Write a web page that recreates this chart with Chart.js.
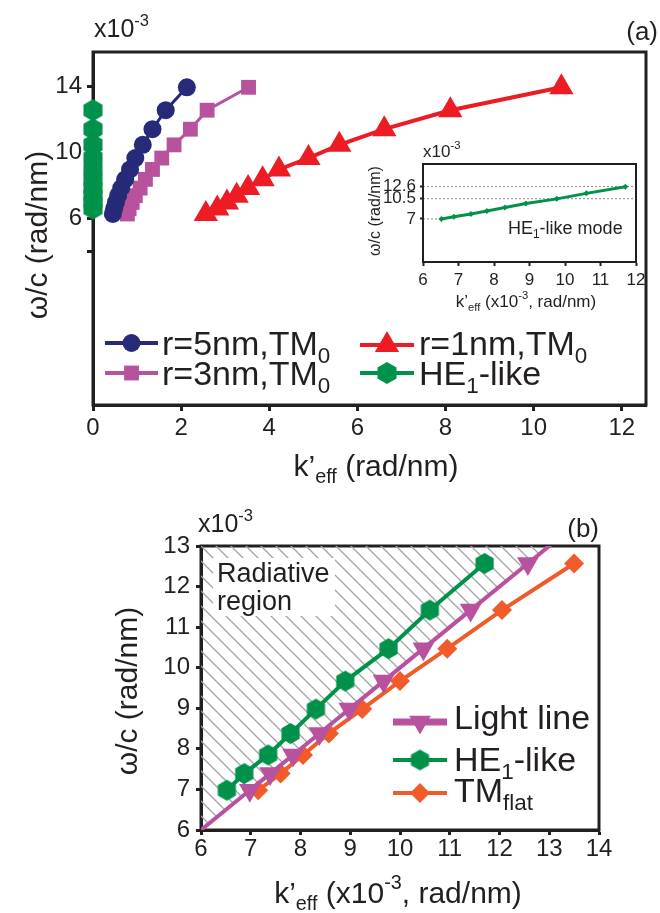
<!DOCTYPE html>
<html>
<head>
<meta charset="utf-8">
<script src="https://cdn.jsdelivr.net/npm/chart.js@4"></script>
<style>
  body { margin: 0; background: #fff; }
  #wrap { position: relative; width: 660px; height: 913px; overflow: hidden; background: #fff; }
  canvas { position: absolute; }
</style>
</head>
<body>
<div id="wrap">
  <canvas id="chartA" width="660" height="495" style="left:0;top:0"></canvas>
  <canvas id="chartB" width="660" height="418" style="left:0;top:495px"></canvas>
  <canvas id="inset" width="305" height="175" style="left:345px;top:140px"></canvas>
</div>
<script>
// ---------- data (omega/c in x10^-3 rad/nm) ----------
// panel (a)
const aOmega = [6.28, 6.61, 6.98, 7.39, 7.85, 8.38, 8.98, 9.67, 10.47, 11.42, 12.57, 13.96];
const aK5nm = [0.45, 0.48, 0.52, 0.57, 0.64, 0.73, 0.84, 0.96, 1.13, 1.35, 1.65, 2.13];
const aK3nm = [0.78, 0.82, 0.89, 0.96, 1.07, 1.19, 1.35, 1.56, 1.84, 2.21, 2.59, 3.53];
const aK1nm = [2.56, 2.82, 3.04, 3.26, 3.52, 3.85, 4.22, 4.89, 5.59, 6.61, 8.11, 10.63];
const aOmegaHE = [6.61, 6.98, 7.39, 7.85, 8.38, 8.98, 9.67, 10.47, 11.42, 12.57];
const aKHE = [0, 0, 0, 0, 0, 0, 0, 0, 0, 0];
const aXTicks = [0, 2, 4, 6, 8, 10, 12];
const aYTicks = [4, 6, 10, 14];
const aYLabeled = [6, 10, 14];

// panel (b) and inset
const bOmega = [6.98, 7.39, 7.85, 8.38, 8.98, 9.67, 10.47, 11.42, 12.57];
const bKHE = [6.52, 6.87, 7.35, 7.8, 8.31, 8.9, 9.77, 10.6, 11.7];
const bKTM = [7.15, 7.6, 8.05, 8.57, 9.24, 10.0, 10.95, 12.05, 13.5];
const bLight = [6, 6.98, 7.39, 7.85, 8.38, 8.98, 9.67, 10.47, 11.42, 12.57, 13.3];
const bXTicks = [6, 7, 8, 9, 10, 11, 12, 13, 14];
const bYTicks = [6, 7, 8, 9, 10, 11, 12, 13];
const inXTicks = [6, 7, 8, 9, 10, 11, 12];
const inYTicks = [7, 10.5, 12.6];

// ---------- styles ----------
const INK = '#231f20';
const NAVY = '#262a78', PINK = '#b8529e', RED = '#ed1c24', GREEN = '#00924a', ORANGE = '#f15a29';
const family = '"Liberation Sans", Arial, Helvetica, sans-serif';

const pts = (xs, ys) => xs.map((x, i) => ({ x: x, y: ys[i] }));

// pointy-top hexagon marker
function hexagon(r, color) {
  const c = document.createElement('canvas');
  const w = Math.ceil(r * 2 + 2);
  c.width = w; c.height = w;
  const g = c.getContext('2d');
  g.fillStyle = color;
  g.beginPath();
  for (let k = 0; k < 6; k++) {
    const a = -Math.PI / 2 + k * Math.PI / 3;
    const px = w / 2 + r * Math.cos(a), py = w / 2 + r * Math.sin(a);
    k ? g.lineTo(px, py) : g.moveTo(px, py);
  }
  g.closePath();
  g.fill();
  return c;
}

// text with sub/superscripts
function rich(ctx, parts, x, y, size, align, rot) {
  ctx.save();
  ctx.translate(x, y);
  if (rot) ctx.rotate(rot);
  ctx.fillStyle = INK;
  ctx.textBaseline = 'alphabetic';
  ctx.textAlign = 'left';
  const seg = parts.map(p => {
    const s = typeof p === 'string' ? { t: p } : p;
    const fs = (s.sub || s.sup) ? size * 0.66 : size;
    ctx.font = fs + 'px ' + family;
    return { t: s.t, fs, w: ctx.measureText(s.t).width, dy: s.sub ? size * 0.24 : s.sup ? -size * 0.46 : 0 };
  });
  const total = seg.reduce((a, s) => a + s.w, 0);
  let cx = align === 'center' ? -total / 2 : align === 'right' ? -total : 0;
  seg.forEach(s => {
    ctx.font = s.fs + 'px ' + family;
    ctx.fillText(s.t, cx, s.dy);
    cx += s.w;
  });
  ctx.restore();
}

function legendRow(ctx, e, x0, x1, y, tx, ty, size) {
  ctx.save();
  ctx.strokeStyle = e.color;
  ctx.lineWidth = e.lw;
  ctx.beginPath(); ctx.moveTo(x0, y); ctx.lineTo(x1, y); ctx.stroke();
  ctx.fillStyle = e.color;
  Chart.helpers.drawPoint(ctx, { pointStyle: e.style, radius: e.r, rotation: e.rot || 0, borderWidth: 0 }, (x0 + x1) / 2, y);
  ctx.restore();
  rich(ctx, e.text, tx, ty, size, 'left');
}

function scaleOpts(min, max, ticks, fitKey, fitVal, size, tickLen, pad, bw, cb) {
  return {
    type: 'linear', min: min, max: max,
    afterBuildTicks: ax => { ax.ticks = ticks.map(v => ({ value: v })); },
    afterFit: ax => { ax[fitKey] = fitVal; },
    grid: { drawOnChartArea: false, drawTicks: true, tickLength: tickLen, tickWidth: bw, tickColor: INK },
    border: { display: true, width: bw, color: INK },
    ticks: { color: INK, font: { family: family, size: size }, padding: pad, maxRotation: 0, autoSkip: false,
             callback: cb || (v => String(v)) }
  };
}

function boxPlugin(lw) {
  return {
    id: 'box',
    beforeDatasetsDraw(chart) {
      const a = chart.chartArea, ctx = chart.ctx;
      ctx.save();
      ctx.strokeStyle = INK; ctx.lineWidth = lw;
      ctx.strokeRect(a.left, a.top, a.right - a.left, a.bottom - a.top);
      ctx.restore();
    }
  };
}

const common = {
  responsive: false, animation: false, devicePixelRatio: 1,
  plugins: { legend: { display: false }, tooltip: { enabled: false } },
  events: []
};

// ---------- panel (a) ----------
const hexA = hexagon(11, GREEN);
new Chart(document.getElementById('chartA'), {
  type: 'scatter',
  data: {
    datasets: [
      { data: pts(aKHE, aOmegaHE), showLine: true, borderColor: GREEN, borderWidth: 3,
        pointStyle: hexA, pointRadius: 11, clip: false },
      { data: pts(aK5nm, aOmega), showLine: true, borderColor: NAVY, backgroundColor: NAVY, borderWidth: 3,
        pointStyle: 'circle', pointRadius: 9, pointBorderWidth: 0 },
      { data: pts(aK3nm, aOmega), showLine: true, borderColor: PINK, backgroundColor: PINK, borderWidth: 3,
        pointStyle: 'rect', pointRadius: 10.5, pointBorderWidth: 0 },
      { data: pts(aK1nm, aOmega), showLine: true, borderColor: RED, backgroundColor: RED, borderWidth: 4,
        pointStyle: 'triangle', pointRadius: 14, pointBorderWidth: 0 }
    ]
  },
  options: Object.assign({}, common, {
    layout: { padding: { left: 0, top: 52, right: 2, bottom: 0 } },
    scales: {
      x: scaleOpts(0, 12.55, aXTicks, 'height', 90, 24, 6, 3, 3),
      y: scaleOpts(-5.3, 16.1, aYTicks, 'width', 93, 24, 6, 5, 3, v => aYLabeled.includes(v) ? String(v) : '')
    }
  }),
  plugins: [boxPlugin(3), {
    id: 'textA',
    afterDraw(chart) {
      const ctx = chart.ctx;
      rich(ctx, ['x10', { t: '-3', sup: true }], 94, 37, 25, 'left');
      rich(ctx, ['(a)'], 658, 40, 26, 'right');
      rich(ctx, ['k\u2019', { t: 'eff', sub: true }, ' (rad/nm)'], 376, 476, 30, 'center');
      rich(ctx, ['\u03c9/c (rad/nm)'], 47, 235, 30, 'center', -Math.PI / 2);
      const rows = [
        { color: NAVY, lw: 4, style: 'circle', r: 9, text: ['r=5nm,TM', { t: '0', sub: true }], x0: 105, x1: 158, y: 343, tx: 162, ty: 355 },
        { color: PINK, lw: 4, style: 'rect', r: 10.5, text: ['r=3nm,TM', { t: '0', sub: true }], x0: 105, x1: 158, y: 373, tx: 162, ty: 385 },
        { color: RED, lw: 4, style: 'triangle', r: 14, text: ['r=1nm,TM', { t: '0', sub: true }], x0: 360, x1: 414, y: 345, tx: 419, ty: 355 },
        { color: GREEN, lw: 4, style: hexA, r: 11, text: ['HE', { t: '1', sub: true }, '-like'], x0: 360, x1: 414, y: 373, tx: 419, ty: 385 }
      ];
      rows.forEach(e => legendRow(ctx, e, e.x0, e.x1, e.y, e.tx, e.ty, 34));
    }
  }]
});

// ---------- inset ----------
new Chart(document.getElementById('inset'), {
  type: 'scatter',
  data: {
    datasets: [
      { data: pts(bKHE, bOmega), showLine: true, borderColor: GREEN, backgroundColor: GREEN, borderWidth: 3,
        pointStyle: 'rectRot', pointRadius: 3, pointBorderWidth: 0 }
    ]
  },
  options: Object.assign({}, common, {
    layout: { padding: { left: 0, top: 24, right: 14, bottom: 0 } },
    scales: {
      x: scaleOpts(6, 12, inXTicks, 'height', 53, 17, 4, 4, 2),
      y: scaleOpts(-0.45, 16.5, inYTicks, 'width', 78, 17, 3, 4, 2)
    }
  }),
  plugins: [{
    id: 'insetBg',
    beforeDraw(chart) {
      const a = chart.chartArea, ctx = chart.ctx;
      ctx.save(); ctx.fillStyle = '#fff';
      ctx.fillRect(a.left, a.top, a.right - a.left, a.bottom - a.top);
      ctx.restore();
    },
    beforeDatasetsDraw(chart) {
      const ctx = chart.ctx, a = chart.chartArea, xs = chart.scales.x, ys = chart.scales.y;
      ctx.save();
      ctx.strokeStyle = '#8a8a8a'; ctx.lineWidth = 1; ctx.setLineDash([2, 2]);
      inYTicks.forEach((v, i) => {
        const y = ys.getPixelForValue(v);
        const xEnd = i === 0 ? xs.getPixelForValue(bKHE[0]) : a.right;
        ctx.beginPath(); ctx.moveTo(a.left, y); ctx.lineTo(xEnd, y); ctx.stroke();
      });
      ctx.restore();
    }
  }, boxPlugin(2), {
    id: 'textIn',
    afterDraw(chart) {
      const ctx = chart.ctx;
      rich(ctx, ['x10', { t: '-3', sup: true }], 78, 17, 17, 'left');
      rich(ctx, ['\u03c9/c (rad/nm)'], 35, 71, 16, 'center', -Math.PI / 2);
      rich(ctx, ['k\u2019', { t: 'eff', sub: true }, ' (x10', { t: '-3', sup: true }, ', rad/nm)'], 181, 167, 17, 'center');
      rich(ctx, ['HE', { t: '1', sub: true }, '-like mode'], 163, 94, 18, 'left');
    }
  }]
});

// ---------- panel (b) ----------
const ctxB = document.getElementById('chartB').getContext('2d');
const tile = document.createElement('canvas');
tile.width = 15; tile.height = 15;
(function () {
  const g = tile.getContext('2d');
  g.strokeStyle = '#a3a3a3'; g.lineWidth = 1.3;
  g.beginPath();
  g.moveTo(-2, -2); g.lineTo(17, 17);
  g.moveTo(-2, 13); g.lineTo(2, 17);
  g.moveTo(13, -2); g.lineTo(17, 2);
  g.stroke();
})();
const hatch = ctxB.createPattern(tile, 'repeat');
const hexB = hexagon(10.5, GREEN);
const lightR = bLight.map((v, i) => (i === 0 || i === bLight.length - 1) ? 0 : 12.5);

new Chart(ctxB, {
  type: 'scatter',
  data: {
    datasets: [
      { data: pts(bKHE, bOmega), showLine: true, borderColor: GREEN, borderWidth: 4,
        pointStyle: hexB, pointRadius: 10.5 },
      { data: pts(bLight, bLight), showLine: true, borderColor: PINK, backgroundColor: hatch, borderWidth: 4,
        fill: 'end', pointStyle: 'triangle', pointRotation: 180, pointRadius: lightR,
        pointBackgroundColor: PINK, pointBorderWidth: 0 },
      { data: pts(bKTM, bOmega), showLine: true, borderColor: ORANGE, backgroundColor: ORANGE, borderWidth: 4,
        pointStyle: 'rectRot', pointRadius: 10, pointBorderWidth: 0 }
    ]
  },
  options: Object.assign({}, common, {
    layout: { padding: { left: 0, top: 51, right: 61, bottom: 0 } },
    scales: {
      x: scaleOpts(6, 14, bXTicks, 'height', 83, 24, 5, 0, 3),
      y: scaleOpts(6, 13, bYTicks, 'width', 201, 24, 5, 6, 3)
    }
  }),
  plugins: [boxPlugin(3), {
    id: 'textB',
    afterDatasetsDraw(chart) {
      const ctx = chart.ctx;
      ctx.save(); ctx.fillStyle = '#fff'; ctx.fillRect(213, 63, 122, 58); ctx.restore();
      rich(ctx, ['Radiative'], 217, 87, 27, 'left');
      rich(ctx, ['region'], 217, 115, 27, 'left');
    },
    afterDraw(chart) {
      const ctx = chart.ctx;
      rich(ctx, ['x10', { t: '-3', sup: true }], 198, 37, 25, 'left');
      rich(ctx, ['(b)'], 599, 42, 26, 'right');
      rich(ctx, ['k\u2019', { t: 'eff', sub: true }, ' (x10', { t: '-3', sup: true }, ', rad/nm)'], 398, 408, 30, 'center');
      rich(ctx, ['\u03c9/c (rad/nm)'], 137, 196, 30, 'center', -Math.PI / 2);
      const rows = [
        { color: PINK, lw: 7, style: 'triangle', rot: 180, r: 12.5, text: ['Light line'], y: 227, ty: 234 },
        { color: GREEN, lw: 4, style: hexB, r: 10.5, text: ['HE', { t: '1', sub: true }, '-like'], y: 265, ty: 276 },
        { color: ORANGE, lw: 4, style: 'rectRot', r: 10, text: ['TM', { t: 'flat', sub: true }], y: 298, ty: 307 }
      ];
      rows.forEach(e => legendRow(ctx, e, 393, 447, e.y, 454, e.ty, 34));
    }
  }]
});
</script>
</body>
</html>
